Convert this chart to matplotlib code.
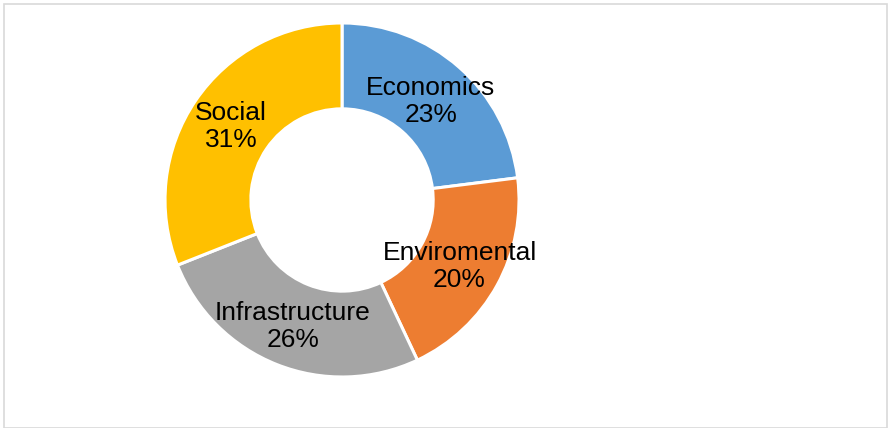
import matplotlib
import matplotlib.pyplot as plt
import numpy as np
from matplotlib.patches import Rectangle
matplotlib.use('Agg')

categories = ['Economics', 'Enviromental', 'Infrastructure', 'Social']
shares = [23, 20, 26, 31]
colors = ['#5B9BD5', '#ED7D31', '#A5A5A5', '#FFC000']

ring_width = 0.485


def plot():
    """Donut chart of the four categories, labels sitting in the ring"""
    plt.rcParams['font.family'] = ['Liberation Sans', 'DejaVu Sans']
    fig = plt.figure(figsize=(8.9, 4.28), dpi=100)

    # light grey frame round the whole chart area
    fig.patches.append(Rectangle((3.5 / 890, 0.5 / 428), 883 / 890, 423.5 / 428,
                                 transform=fig.transFigure, fill=False,
                                 edgecolor='#D9D9D9', linewidth=1.2))

    ax = fig.add_axes([0.1854, 0.1192, 0.3978, 0.8271])
    wedges, _ = ax.pie(shares, colors=colors, startangle=90, counterclock=False,
                       radius=1.0,
                       wedgeprops=dict(width=ring_width, edgecolor='white',
                                       linewidth=2.2))

    r_mid = 1 - ring_width / 2
    for wedge, name, pct in zip(wedges, categories, shares):
        ang = np.deg2rad((wedge.theta1 + wedge.theta2) / 2)
        ax.text(r_mid * np.cos(ang), r_mid * np.sin(ang) - 0.01, f'{name}\n{pct}%',
                ha='center', va='center', fontsize=19, linespacing=1.15,
                color='black')

    ax.set_xlim(-1, 1)
    ax.set_ylim(-1, 1)
    ax.set_aspect('equal')
    ax.axis('off')
    fig.savefig('out.png', dpi=100)


plot()
